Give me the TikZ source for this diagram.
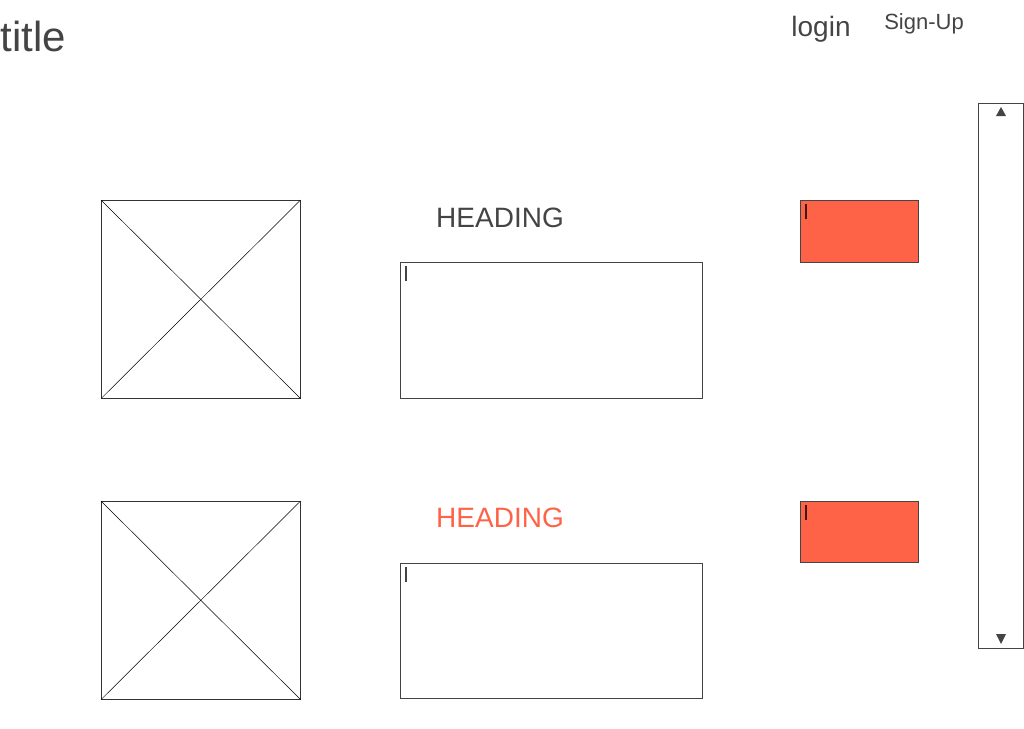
\documentclass[tikz,border=0pt]{standalone}
\usepackage{fontspec}
\setmainfont{Liberation Sans}
\definecolor{inkgray}{HTML}{444444}
\definecolor{tomatored}{HTML}{FF6347}
\begin{document}
\begin{tikzpicture}[x=1pt,y=-1pt,line width=0.8pt]
\tikzset{
  picbox/.style={draw=black!80,line width=0.6pt,shape=rectangle,anchor=north west,inner sep=0pt,minimum width=199pt,minimum height=198pt},
  textbox/.style={draw=inkgray,shape=rectangle,anchor=north west,inner sep=0pt,minimum width=302pt,minimum height=136pt},
  redbox/.style={draw=inkgray,fill=tomatored,shape=rectangle,anchor=north west,inner sep=0pt,minimum width=118pt,minimum height=62pt},
  label/.style={text=inkgray,anchor=base,inner sep=0pt},
  cursor/.style={line width=1.8pt}
}
\useasboundingbox (0,0) rectangle (1024,728);
\node[label,anchor=base west,font=\fontsize{42}{42}\selectfont] (title) at (0,51) {title};
\node[label,font=\fontsize{28}{28}\selectfont] (login) at (821,36) {login};
\node[label,font=\fontsize{22}{22}\selectfont] (signup) at (924,29) {Sign-Up};
\node[draw=inkgray,shape=rectangle,anchor=north west,inner sep=0pt,minimum width=45pt,minimum height=545pt] (scroll) at (978,103) {};
\fill[inkgray] (996,116) -- (1006,116) -- (1001,107) -- cycle;
\fill[inkgray] (996,634) -- (1006,634) -- (1001,644) -- cycle;
% first row
\node[picbox] (img1) at (101,200) {};
\draw[line width=0.5pt] (img1.north west) -- (img1.south east) (img1.south west) -- (img1.north east);
\node[label,font=\fontsize{28}{28}\selectfont] (head1) at (500,227) {HEADING};
\node[textbox] (text1) at (400,262) {};
\draw[cursor,inkgray] (406,266) -- (406,281);
\node[redbox] (btn1) at (800,200) {};
\draw[cursor,black!75!tomatored] (806,204) -- (806,219);
% second row
\node[picbox] (img2) at (101,501) {};
\draw[line width=0.5pt] (img2.north west) -- (img2.south east) (img2.south west) -- (img2.north east);
\node[label,text=tomatored,font=\fontsize{28}{28}\selectfont] (head2) at (500,527) {HEADING};
\node[textbox,minimum height=135pt] (text2) at (400,563) {};
\draw[cursor,inkgray] (406,567) -- (406,582);
\node[redbox,minimum height=61pt] (btn2) at (800,501) {};
\draw[cursor,black!75!tomatored] (806,505) -- (806,520);
\end{tikzpicture}
\end{document}
